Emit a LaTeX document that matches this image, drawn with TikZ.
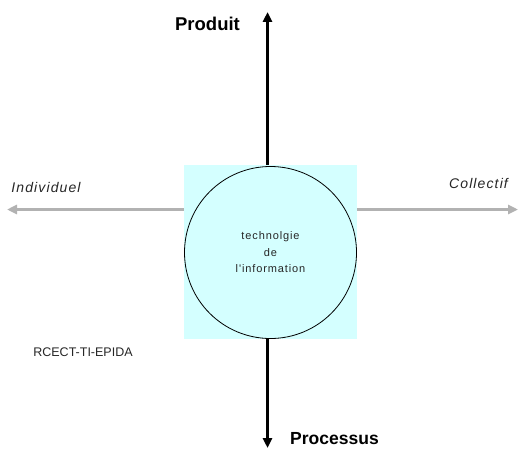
\documentclass[tikz,border=0pt]{standalone}
\usepackage{fontspec}
\setmainfont{Liberation Sans}
\newfontfamily\spaced[LetterSpace=8]{Liberation Sans}
\usetikzlibrary{arrows.meta}
\definecolor{axisgray}{RGB}{178,178,178}
\definecolor{lightcyan}{RGB}{212,255,255}
\tikzset{
  lbl/.style={inner sep=0pt, anchor=center, text=black!85},
  blackaxis/.style={line width=3pt, black, {Triangle[length=10pt,width=9pt]}-{Triangle[length=10pt,width=9pt]}},
  grayaxis/.style={line width=3pt, axisgray, {Triangle[length=10pt,width=9pt]}-{Triangle[length=10pt,width=9pt]}},
}
\begin{document}
\begin{tikzpicture}[x=1pt,y=1pt]
\useasboundingbox (0,0) rectangle (518,448);
% axes
\coordinate (bot) at (267.5,0);
\coordinate (top) at (267.5,436);
\coordinate (left) at (7,238.5);
\coordinate (right) at (518,238.5);
\draw[grayaxis] (left) -- (right);
\draw[blackaxis] (bot) -- (top);
% square background
\node[fill=lightcyan, inner sep=0pt, minimum width=173pt, minimum height=174pt] (sq) at (270.5,196) {};
% circle
\node[circle, draw=black, line width=0.8pt, fill=lightcyan, minimum size=172pt, inner sep=0pt,
      align=center, font=\spaced\fontsize{11}{16.5}\selectfont, text=black!85] (circ) at (270.5,195.5)
      {technolgie\\de\\l'information};
% labels
\node[lbl, font=\bfseries\fontsize{18.5}{20}\selectfont, text=black] (produit) at (207.5,424) {Produit};
\node[lbl, font=\bfseries\fontsize{17.5}{20}\selectfont, text=black] (processus) at (334.5,9.5) {Processus};
\node[lbl, font=\spaced\itshape\fontsize{14}{16}\selectfont] (indiv) at (46,261) {Individuel};
\node[lbl, font=\spaced\itshape\fontsize{14}{16}\selectfont] (coll) at (478.5,265) {Collectif};
\node[lbl, font=\fontsize{12.5}{14}\selectfont] (rcect) at (83,96) {RCECT-TI-EPIDA};
\end{tikzpicture}
\end{document}
